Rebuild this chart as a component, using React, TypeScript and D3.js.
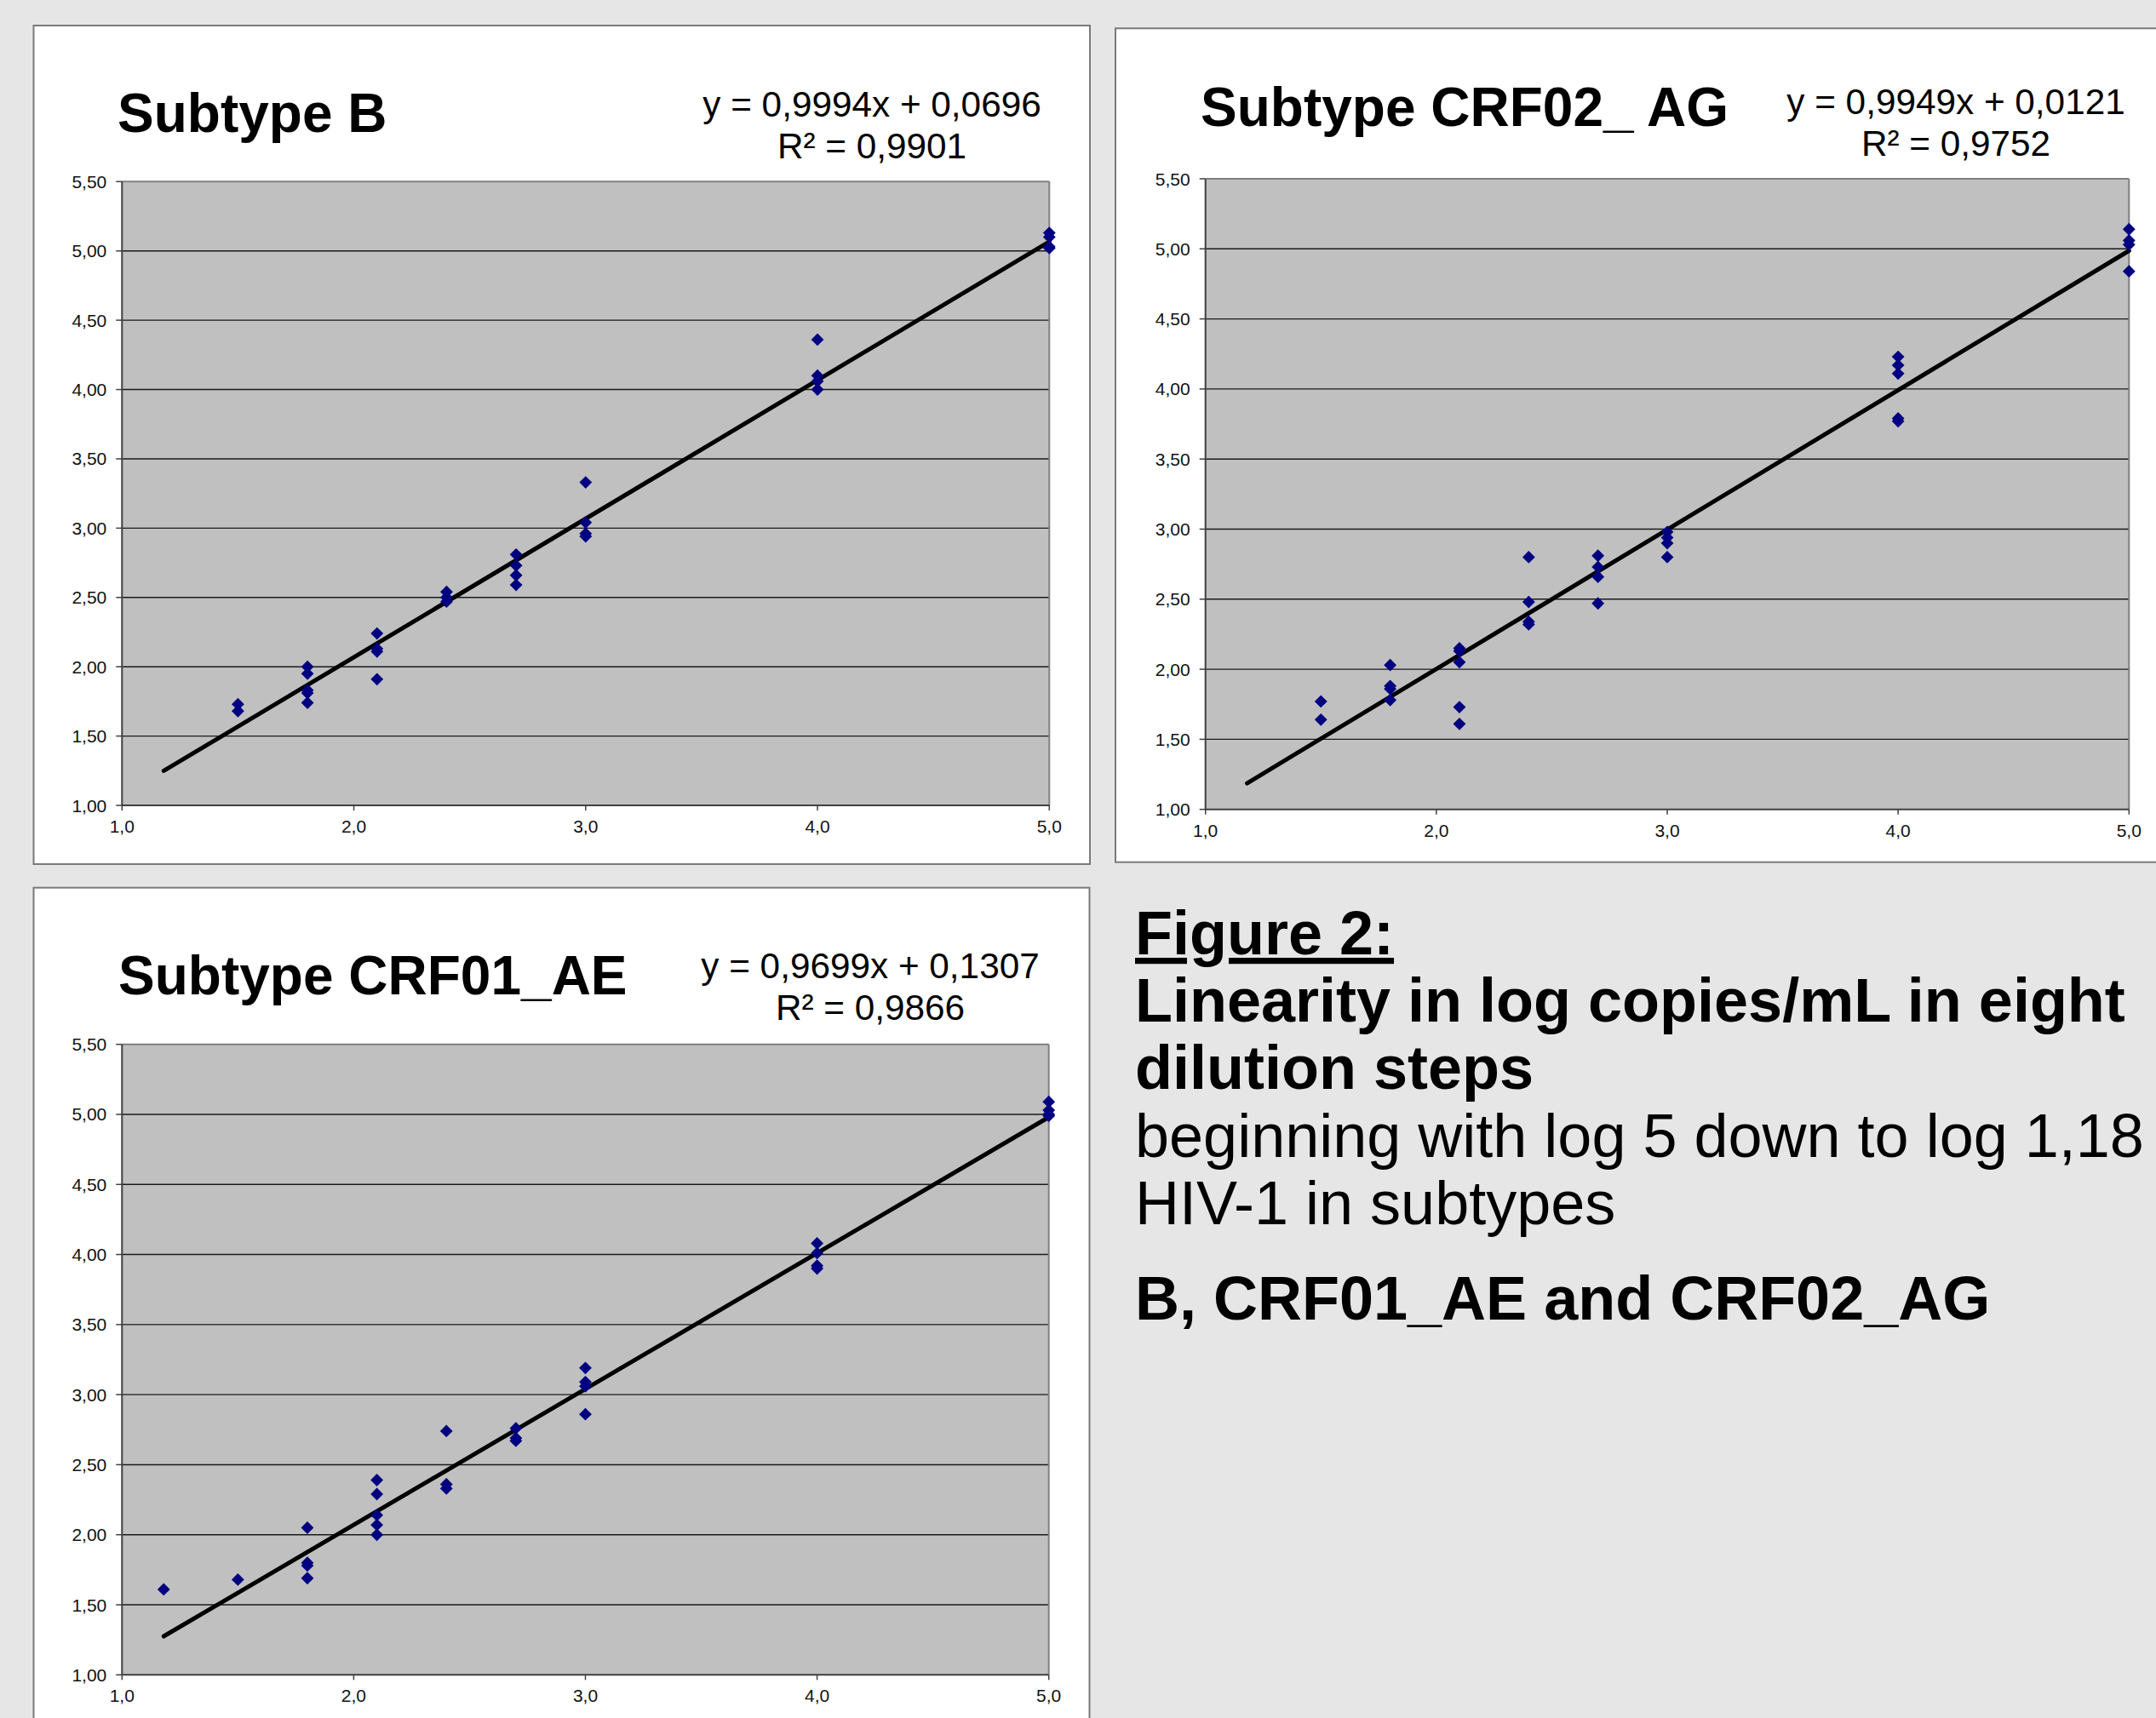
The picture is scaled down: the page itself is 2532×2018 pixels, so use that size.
import React from "react";
import * as d3 from "d3";

// dilution steps (log copies/mL) and measured values per step
const xTicks = [1, 2, 3, 4, 5];
const yTicks = [1, 1.5, 2, 2.5, 3, 3.5, 4, 4.5, 5, 5.5];
const trendRange = [1.18, 5.0];

const subtypeB = [
  { x: 1.5, y: [1.73, 1.68] },
  { x: 1.8, y: [2.0, 1.95, 1.83, 1.81, 1.74] },
  { x: 2.1, y: [2.24, 2.13, 2.11, 1.91] },
  { x: 2.4, y: [2.54, 2.5, 2.47] },
  { x: 2.7, y: [2.81, 2.73, 2.66, 2.59] },
  { x: 3.0, y: [3.33, 3.04, 2.96, 2.94] },
  { x: 4.0, y: [4.36, 4.1, 4.06, 4.0] },
  { x: 5.0, y: [5.13, 5.1, 5.03, 5.02] },
];

const subtypeAG = [
  { x: 1.5, y: [1.77, 1.64] },
  { x: 1.8, y: [2.03, 1.88, 1.86, 1.78] },
  { x: 2.1, y: [2.15, 2.13, 2.05, 1.73, 1.61] },
  { x: 2.4, y: [2.8, 2.48, 2.34, 2.32] },
  { x: 2.7, y: [2.81, 2.73, 2.66, 2.47] },
  { x: 3.0, y: [2.98, 2.94, 2.9, 2.8] },
  { x: 4.0, y: [4.23, 4.17, 4.11, 3.79, 3.77] },
  { x: 5.0, y: [5.14, 5.06, 5.03, 4.84] },
];

const subtypeAE = [
  { x: 1.18, y: [1.61] },
  { x: 1.5, y: [1.68] },
  { x: 1.8, y: [2.05, 1.8, 1.78, 1.69] },
  { x: 2.1, y: [2.39, 2.29, 2.14, 2.07, 2.0] },
  { x: 2.4, y: [2.74, 2.36, 2.33] },
  { x: 2.7, y: [2.76, 2.69, 2.67] },
  { x: 3.0, y: [3.19, 3.09, 3.06, 2.86] },
  { x: 4.0, y: [4.08, 4.01, 3.92, 3.9] },
  { x: 5.0, y: [5.09, 5.03, 5.0, 4.99] },
];

const fits = {
  B: { slope: 0.9994, intercept: 0.0696, r2: "0,9901", eq: "y = 0,9994x + 0,0696" },
  AG: { slope: 0.9949, intercept: 0.0121, r2: "0,9752", eq: "y = 0,9949x + 0,0121" },
  AE: { slope: 0.9699, intercept: 0.1307, r2: "0,9866", eq: "y = 0,9699x + 0,1307" },
};

const captionLines = [
  { text: "Figure 2:", bold: true, underline: true },
  { text: "Linearity in log copies/mL in eight", bold: true },
  { text: "dilution steps", bold: true },
  { text: "beginning with log 5 down to log 1,18", bold: false },
  { text: "HIV-1 in subtypes", bold: false },
  { text: "B, CRF01_AE and CRF02_AG", bold: true },
];
const captionBaselines = [1121, 1200, 1279, 1359, 1438, 1550];

const locale = d3.formatLocale({ decimal: ",", thousands: ".", grouping: [3], currency: ["", ""] });
const fmtY = locale.format(".2f");
const fmtX = locale.format(".1f");

const FONT = "'Liberation Sans', Arial, Helvetica, sans-serif";

function Panel({ title, data, fit, box, plot, titlePos, eqPos }) {
  const x = d3.scaleLinear().domain([1, 5]).range([plot.x0, plot.x1]);
  const y = d3.scaleLinear().domain([1, 5.5]).range([plot.y1, plot.y0]);
  const line = d3
    .line()
    .x((d) => x(d))
    .y((d) => y(fit.slope * d + fit.intercept));
  const marker = d3.symbol().type(d3.symbolSquare).size(110)();
  const points = data.flatMap((g) => g.y.map((v) => ({ x: g.x, y: v })));

  return (
    <g>
      <rect x={box.x} y={box.y} width={box.w} height={box.h} fill="#fff" stroke="#7a7a7a" strokeWidth={2} />
      <g transform={`translate(${titlePos.x},${titlePos.y}) scale(0.985,1)`}>
        <text x={0} y={0} fontFamily={FONT} fontWeight="bold" fontSize={65} fill="#000">
          {title}
        </text>
      </g>
      <text x={eqPos.x} y={eqPos.y} fontFamily={FONT} fontSize={42.3} textAnchor="middle" fill="#000">
        {fit.eq}
      </text>
      <text x={eqPos.x} y={eqPos.y + 49} fontFamily={FONT} fontSize={42.3} textAnchor="middle" fill="#000">
        {"R² = " + fit.r2}
      </text>

      <rect x={plot.x0} y={plot.y0} width={plot.x1 - plot.x0} height={plot.y1 - plot.y0} fill="#c0c0c0" />
      {yTicks.slice(1, -1).map((t) => (
        <line key={t} x1={plot.x0} x2={plot.x1} y1={y(t)} y2={y(t)} stroke="#1a1a1a" strokeWidth={1.4} />
      ))}
      <line x1={plot.x0} x2={plot.x1} y1={plot.y0} y2={plot.y0} stroke="#808080" strokeWidth={2} />
      <line x1={plot.x1} x2={plot.x1} y1={plot.y0} y2={plot.y1} stroke="#808080" strokeWidth={2} />
      <line x1={plot.x0} x2={plot.x0} y1={plot.y0} y2={plot.y1} stroke="#404040" strokeWidth={2} />
      <line x1={plot.x0} x2={plot.x1} y1={plot.y1} y2={plot.y1} stroke="#404040" strokeWidth={2} />

      {yTicks.map((t) => (
        <g key={"y" + t}>
          <line x1={plot.x0 - 7} x2={plot.x0} y1={y(t)} y2={y(t)} stroke="#404040" strokeWidth={1.5} />
          <text
            x={plot.x0 - 18}
            y={y(t) + 7.5}
            textAnchor="end"
            fontFamily={FONT}
            fontSize={21}
            fill="#111"
          >
            {fmtY(t)}
          </text>
        </g>
      ))}
      {xTicks.map((t) => (
        <g key={"x" + t}>
          <line x1={x(t)} x2={x(t)} y1={plot.y1} y2={plot.y1 + 6} stroke="#404040" strokeWidth={1.5} />
          <text x={x(t)} y={plot.y1 + 32} textAnchor="middle" fontFamily={FONT} fontSize={21} fill="#111">
            {fmtX(t)}
          </text>
        </g>
      ))}

      <path d={line(trendRange)} fill="none" stroke="#000" strokeWidth={5} strokeLinecap="round" />
      {points.map((p, i) => (
        <path
          key={i}
          d={marker}
          transform={`translate(${x(p.x)},${y(p.y)}) rotate(45)`}
          fill="#000080"
        />
      ))}
    </g>
  );
}

export default function App() {
  return (
    <svg
      width={2532}
      height={2018}
      style={{ position: "absolute", left: 0, top: 0, background: "#e6e6e6" }}
    >
      <rect x={0} y={0} width={2532} height={2018} fill="#e6e6e6" />
      <Panel
        title="Subtype B"
        data={subtypeB}
        fit={fits.B}
        box={{ x: 39.5, y: 30, w: 1240.5, h: 985 }}
        plot={{ x0: 143.3, x1: 1232.3, y0: 213.3, y1: 946 }}
        titlePos={{ x: 138, y: 155 }}
        eqPos={{ x: 1024, y: 137 }}
      />
      <Panel
        title="Subtype CRF02_ AG"
        data={subtypeAG}
        fit={fits.AG}
        box={{ x: 1310, y: 33.3, w: 1240, h: 979.4 }}
        plot={{ x0: 1415.7, x1: 2500.3, y0: 210, y1: 950.7 }}
        titlePos={{ x: 1410, y: 148 }}
        eqPos={{ x: 2297, y: 134 }}
      />
      <Panel
        title="Subtype CRF01_AE"
        data={subtypeAE}
        fit={fits.AE}
        box={{ x: 39.5, y: 1042.7, w: 1240, h: 1000 }}
        plot={{ x0: 143.3, x1: 1231.7, y0: 1226.7, y1: 1967.3 }}
        titlePos={{ x: 139, y: 1168 }}
        eqPos={{ x: 1022, y: 1149 }}
      />

      {captionLines.map((l, i) => (
        <text
          key={i}
          x={1333}
          y={captionBaselines[i]}
          fontFamily={FONT}
          fontSize={72}
          fontWeight={l.bold ? "bold" : "normal"}
          textDecoration={l.underline ? "underline" : undefined}
          fill="#000"
        >
          {l.text}
        </text>
      ))}
    </svg>
  );
}
